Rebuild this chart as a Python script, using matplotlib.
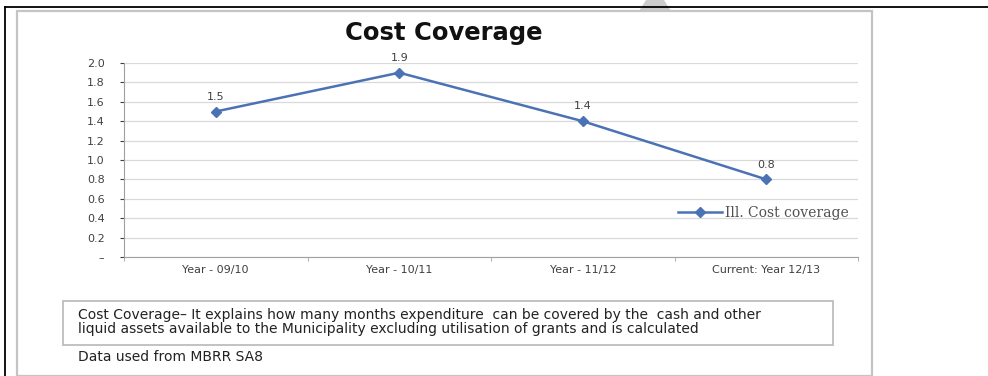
import matplotlib.pyplot as plt
from matplotlib.patches import Rectangle, Polygon
from matplotlib.lines import Line2D

# data
years = ["Year - 09/10", "Year - 10/11", "Year - 11/12", "Current: Year 12/13"]
coverage = [1.5, 1.9, 1.4, 0.8]
y_ticks = [0.0, 0.2, 0.4, 0.6, 0.8, 1.0, 1.2, 1.4, 1.6, 1.8, 2.0]
y_tick_labels = ["\u2013", "0.2", "0.4", "0.6", "0.8", "1.0", "1.2", "1.4", "1.6", "1.8", "2.0"]
series_name = "Ill. Cost coverage"
note = ("Cost Coverage\u2013 It explains how many months expenditure  can be covered by the  cash and other\n"
        "liquid assets available to the Municipality excluding utilisation of grants and is calculated")
source = "Data used from MBRR SA8"

plt.rcParams["font.family"] = ["DejaVu Sans"]

W, H = 988, 376
fig = plt.figure(figsize=(W / 100, H / 100), dpi=100)

def fx(px):
    return px / W

def fy(py):
    return 1 - py / H

# page frame (black lines top and left)
fig.add_artist(Line2D([fx(5), 1], [fy(7), fy(7)], color="black", lw=1.3, zorder=3))
fig.add_artist(Line2D([fx(5), fx(5)], [fy(7), 0], color="black", lw=1.3))
# faint watermark shape at the top
fig.add_artist(Polygon([[fx(646), 1], [fx(664), 1], [fx(671), fy(11)], [fx(639), fy(11)]],
                       closed=True, color="#cccccc", lw=0))

# chart panel border
fig.add_artist(Rectangle((fx(17), 0), fx(872) - fx(17), fy(11),
                         fill=False, edgecolor="#c4c4c4", lw=1.6))

ax = fig.add_axes([fx(124), fy(257), fx(858) - fx(124), fy(63) - fy(257)])
x = list(range(len(years)))
ax.plot(x, coverage, color="#4a72b4", lw=1.8, marker="D", markersize=5,
        label=series_name)
for xi, v in zip(x, coverage):
    ax.annotate(f"{v:.1f}", (xi, v), xytext=(0, 7), textcoords="offset points",
                ha="center", va="bottom", fontsize=8, color="#404040")

ax.set_xlim(-0.5, len(years) - 0.5)
ax.set_ylim(0, 2.0)
ax.set_yticks(y_ticks)
ax.set_yticklabels(y_tick_labels)
ax.set_xticks(x)
ax.set_xticklabels(years)
ax.tick_params(axis="both", labelsize=8, colors="#404040", length=3, width=0.8)
ax.tick_params(axis="y", pad=11)
ax.tick_params(axis="x", length=0, pad=6)
ax.set_xticks([i - 0.5 for i in range(len(years) + 1)], minor=True)
ax.tick_params(axis="x", which="minor", length=3, color="#a0a0a0")
ax.grid(axis="y", color="#d9d9d9", lw=0.9)
ax.set_axisbelow(True)
for side in ["top", "right"]:
    ax.spines[side].set_visible(False)
for side in ["left", "bottom"]:
    ax.spines[side].set_color("#a0a0a0")
    ax.spines[side].set_linewidth(0.8)

leg = ax.legend(loc="center left", bbox_to_anchor=(fx(678 - 124) / (fx(858) - fx(124)), 0.225),
                frameon=False, handlelength=3.2, handletextpad=0.2,
                borderaxespad=0, borderpad=0, prop={"family": "DejaVu Serif", "size": 10})
for t in leg.get_texts():
    t.set_color("#505050")

fig.text(fx(444), fy(33), "Cost Coverage", ha="center", va="center",
         fontsize=17.5, fontweight="bold", color="#111111")

# note box
fig.add_artist(Rectangle((fx(63), fy(345)), fx(833) - fx(63), fy(301) - fy(345),
                         fill=False, edgecolor="#b8b8b8", lw=1.2))
fig.text(fx(78), fy(322), note, ha="left", va="center", fontsize=10,
         color="#222222", linespacing=0.95)
fig.text(fx(78), fy(357), source, ha="left", va="center", fontsize=10,
         color="#222222")

fig.savefig("out.png", dpi=100)
